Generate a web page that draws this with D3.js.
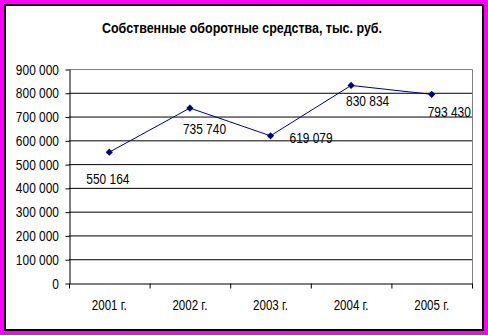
<!DOCTYPE html>
<html><head><meta charset="utf-8">
<script src="https://cdn.jsdelivr.net/npm/d3@7"></script>
<style>html,body{margin:0;padding:0;background:#ff00ff;}svg{display:block;}</style>
</head><body>
<script>
const title = "Собственные оборотные средства, тыс. руб.";
const categories = ["2001 г.", "2002 г.", "2003 г.", "2004 г.", "2005 г."];
const values = [550164, 735740, 619079, 830834, 793430];
const valueLabels = ["550 164", "735 740", "619 079", "830 834", "793 430"];
const yTicks = [0, 100000, 200000, 300000, 400000, 500000, 600000, 700000, 800000, 900000];
const yTickLabels = ["0", "100 000", "200 000", "300 000", "400 000", "500 000", "600 000", "700 000", "800 000", "900 000"];

// label placement offsets (style, relative to marker)
const labelOffsets = [[-23, 32], [-7, 26], [19, 7], [-5, 21], [-4, 23]];

const W = 488, H = 335;
const svg = d3.select("body").append("svg").attr("width", W).attr("height", H);
svg.append("rect").attr("width", W).attr("height", H).attr("fill", "#ff00ff");
svg.append("rect").attr("x", 5).attr("y", 5).attr("width", 478).attr("height", 325)
  .attr("fill", "#fff").attr("stroke", "#000").attr("stroke-width", 2);

const font = "'Liberation Sans', Arial, sans-serif";
const pL = 69, pR = 472, pT = 69, pB = 283;
const x = d3.scaleBand().domain(categories).range([pL, pR]);
const y = d3.scaleLinear().domain([0, 900000]).range([pB, pT]);

svg.append("text").attr("x", 242).attr("y", 33).attr("text-anchor", "middle")
  .attr("font-family", font).attr("font-weight", "bold").attr("font-size", 14)
  .attr("textLength", 280).attr("lengthAdjust", "spacingAndGlyphs").text(title);

// gridlines
svg.append("g").selectAll("line").data(yTicks.slice(1, -1)).join("line")
  .attr("x1", pL).attr("x2", pR).attr("y1", d => y(d) + 0.5).attr("y2", d => y(d) + 0.5)
  .attr("stroke", "#000").attr("stroke-width", 1);
// plot border top/right gray
svg.append("path").attr("d", `M${pL},${y(900000)+0.5}H${pR+0.5}V${pB}`)
  .attr("fill", "none").attr("stroke", "#808080").attr("stroke-width", 1);

const sx = 0.77;
// y axis
const yAxis = d3.axisLeft(y).tickValues(yTicks).tickSize(4).tickSizeOuter(0).tickFormat("");
const ya = svg.append("g").attr("transform", `translate(${pL + 0.5},0.5)`).call(yAxis);
ya.select(".domain").attr("stroke", "#000");
ya.selectAll(".tick line").attr("stroke", "#000");
svg.append("g").selectAll("text").data(yTicks).join("text")
  .attr("transform", (d) => `translate(59,${y(d) + 5.5}) scale(${sx},1)`)
  .attr("text-anchor", "end").attr("font-family", font).attr("font-size", 15.5).attr("fill", "#000")
  .text((d, i) => yTickLabels[i]);

// x axis
const xAxis = d3.axisBottom(x).tickSize(5).tickSizeOuter(0).tickFormat("");
const xa = svg.append("g").attr("transform", `translate(0.5,${pB + 0.5})`).call(xAxis);
xa.select(".domain").attr("stroke", "#000");
xa.selectAll(".tick").remove();
xa.selectAll(".edge").data(x.domain().map(c => x(c)).concat([pR])).join("line")
  .attr("x1", d => d).attr("x2", d => d).attr("y1", 0).attr("y2", 5).attr("stroke", "#000");
svg.append("g").selectAll("text").data(categories).join("text")
  .attr("transform", d => `translate(${x(d) + x.bandwidth() / 2},310) scale(${sx},1)`)
  .attr("text-anchor", "middle").attr("font-family", font).attr("font-size", 15).attr("fill", "#000")
  .text(d => d);

// line
const cx = (d, i) => x(categories[i]) + x.bandwidth() / 2;
const line = d3.line().x((d, i) => cx(d, i)).y(d => y(d));
svg.append("path").datum(values).attr("d", line).attr("fill", "none")
  .attr("stroke", "#000080").attr("stroke-width", 1);
svg.append("g").selectAll("path").data(values).join("path")
  .attr("d", d3.symbol(d3.symbolSquare, 26)())
  .attr("transform", (d, i) => `translate(${cx(d, i)},${y(d)}) rotate(45)`)
  .attr("fill", "#000080");

// labels
svg.append("g").selectAll("text").data(values).join("text")
  .attr("transform", (d, i) => `translate(${cx(d, i) + labelOffsets[i][0]},${y(d) + labelOffsets[i][1]}) scale(${sx},1)`)
  .attr("font-family", font).attr("font-size", 15.5).attr("fill", "#000")
  .text((d, i) => valueLabels[i]);
</script>
</body></html>
